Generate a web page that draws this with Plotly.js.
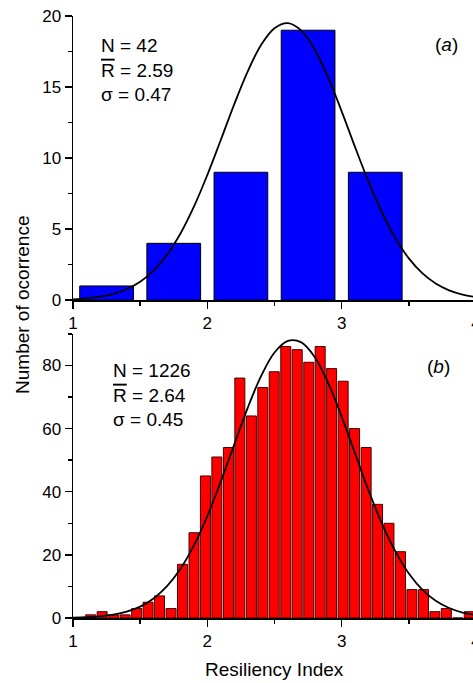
<!DOCTYPE html>
<html>
<head>
<meta charset="utf-8">
<script src="https://cdn.plot.ly/plotly-3.0.1.min.js"></script>
<style>
html,body{margin:0;padding:0;overflow:hidden;background:#fff;}
#chart{width:490px;height:683px;}
</style>
</head>
<body>
<div id="chart"></div>
<script>
// ---- Data ----
// Panel (a): N = 42
var binsA = [1.25, 1.75, 2.25, 2.75, 3.25];
var countsA = [1, 4, 9, 19, 9];

// Panel (b): N = 1226
var binsB = [1.132, 1.217, 1.303, 1.388, 1.474, 1.559, 1.644, 1.730, 1.815, 1.901,
             1.986, 2.071, 2.157, 2.242, 2.328, 2.413, 2.498, 2.584, 2.669, 2.755,
             2.840, 2.925, 3.011, 3.096, 3.182, 3.267, 3.352, 3.438, 3.523, 3.609,
             3.694, 3.779, 3.865, 3.950];
var countsB = [1, 2, 1, 1, 3, 5, 7, 3, 17, 27,
               45, 51, 54, 76, 64, 73, 78, 86, 85, 81,
               86, 79, 75, 60, 54, 36, 30, 21, 9, 9,
               2, 3, 0, 2];

// Fitted normal curves
var curveX = [1.0, 1.1, 1.2, 1.3, 1.4, 1.5, 1.6, 1.7, 1.8, 1.9,
              2.0, 2.1, 2.2, 2.3, 2.4, 2.5, 2.6, 2.7, 2.8, 2.9,
              3.0, 3.1, 3.2, 3.3, 3.4, 3.5, 3.6, 3.7, 3.8, 3.9, 4.0];
var curveA = [0.06, 0.12, 0.24, 0.44, 0.77, 1.29, 2.08, 3.20, 4.69, 6.58,
              8.81, 11.27, 13.78, 16.09, 17.96, 19.14, 19.50, 18.97, 17.63, 15.66,
              13.29, 10.77, 8.34, 6.17, 4.36, 2.94, 1.90, 1.17, 0.69, 0.39, 0.21];
var curveB = [0.12, 0.26, 0.54, 1.07, 2.01, 3.62, 6.19, 10.07, 15.60, 23.01,
              32.3, 43.2, 54.9, 66.5, 76.6, 84.1, 87.8, 87.3, 82.6, 74.4,
              63.8, 52.1, 40.4, 29.9, 21.1, 14.1, 9.0, 5.46, 3.16, 1.74, 0.91];

var statsA = ['N = 42', 'R = 2.59', 'σ = 0.47'];
var statsB = ['N = 1226', 'R = 2.64', 'σ = 0.45'];
var xTicks = [1, 2, 3, 4];

// ---- Styling ----
var FONT = 'Liberation Sans, Arial, Helvetica, sans-serif';
var LW = 1.5;

function statText(s) {
  return s[0] + '<br><span style="text-decoration:overline">R</span>' + s[1].slice(1) + '<br>' + s[2];
}

var traces = [
  {type: 'bar', x: binsA, y: countsA, width: 0.4, xaxis: 'x', yaxis: 'y',
   marker: {color: '#0000ff', line: {color: '#000000', width: 1}}, hoverinfo: 'none'},
  {type: 'scatter', mode: 'lines', x: curveX, y: curveA, xaxis: 'x', yaxis: 'y',
   line: {color: '#000', width: 1.8, shape: 'spline', smoothing: 1}, hoverinfo: 'none'},
  {type: 'bar', x: binsB, y: countsB, width: 0.0745, xaxis: 'x2', yaxis: 'y2',
   marker: {color: '#ff0000', line: {color: '#4a0000', width: 1}}, hoverinfo: 'none'},
  {type: 'scatter', mode: 'lines', x: curveX, y: curveB, xaxis: 'x2', yaxis: 'y2',
   line: {color: '#000', width: 1.8, shape: 'spline', smoothing: 1}, hoverinfo: 'none'}
];

function xAx(anchor, extra) {
  var a = {
    anchor: anchor, range: [1, 4], autorange: false,
    tickvals: xTicks, ticktext: xTicks.map(String),
    ticks: 'outside', ticklen: 7, tickwidth: LW, tickcolor: '#000',
    minor: {ticks: 'outside', ticklen: 4, tickwidth: LW, tickcolor: '#000', dtick: 0.5, tick0: 1, showgrid: false},
    showline: true, linecolor: '#000', linewidth: LW,
    showgrid: false, zeroline: false,
    tickfont: {family: FONT, size: 17, color: '#000'}
  };
  for (var k in extra) a[k] = extra[k];
  return a;
}
function yAx(anchor, domain, range, dtick, mdtick, extra) {
  var a = {
    anchor: anchor, domain: domain, range: range, autorange: false,
    dtick: dtick, tick0: 0,
    ticks: 'outside', ticklen: 7, tickwidth: LW, tickcolor: '#000',
    minor: {ticks: 'outside', ticklen: 4, tickwidth: LW, tickcolor: '#000', dtick: mdtick, tick0: 0, showgrid: false},
    showline: true, linecolor: '#000', linewidth: LW,
    showgrid: false, zeroline: false,
    tickfont: {family: FONT, size: 17, color: '#000'}
  };
  for (var k in extra) a[k] = extra[k];
  return a;
}
function mirrorX(over, anchor) {
  return {
    overlaying: over, anchor: anchor, side: 'top', range: [1, 4], autorange: false,
    tickvals: xTicks, showticklabels: false,
    ticks: 'inside', ticklen: 7, tickwidth: LW, tickcolor: '#000',
    minor: {ticks: 'inside', ticklen: 4, tickwidth: LW, tickcolor: '#000', dtick: 0.5, tick0: 1, showgrid: false},
    showline: true, linecolor: '#000', linewidth: LW, showgrid: false, zeroline: false
  };
}
function mirrorY(over, anchor, range, dtick, mdtick) {
  return {
    overlaying: over, anchor: anchor, side: 'right', range: range, autorange: false,
    dtick: dtick, tick0: 0, showticklabels: false,
    ticks: 'inside', ticklen: 7, tickwidth: LW, tickcolor: '#000',
    minor: {ticks: 'inside', ticklen: 4, tickwidth: LW, tickcolor: '#000', dtick: mdtick, tick0: 0, showgrid: false},
    showline: true, linecolor: '#000', linewidth: LW, showgrid: false, zeroline: false
  };
}

var annFont = {family: FONT, size: 19, color: '#000'};

var layout = {
  width: 490, height: 683,
  margin: {l: 73, r: 14, t: 16, b: 65, pad: 0},
  paper_bgcolor: '#fff', plot_bgcolor: '#fff',
  showlegend: false,
  font: {family: FONT, color: '#000'},
  xaxis: xAx('y', {}),
  yaxis: yAx('x', [0.528, 1], [0, 20], 5, 2.5, {}),
  xaxis2: xAx('y2', {}),
  yaxis2: yAx('x2', [0, 0.472], [0, 90], 20, 10, {}),
  xaxis3: mirrorX('x', 'y'),
  yaxis3: mirrorY('y', 'x', [0, 20], 5, 2.5),
  xaxis4: mirrorX('x2', 'y2'),
  yaxis4: mirrorY('y2', 'x2', [0, 90], 20, 10),
  annotations: [
    {xref: 'x', yref: 'y', x: 1.19, y: 18.8, xanchor: 'left', yanchor: 'top', align: 'left',
     showarrow: false, text: statText(statsA), font: annFont},
    {xref: 'x2', yref: 'y2', x: 1.28, y: 82.5, xanchor: 'left', yanchor: 'top', align: 'left',
     showarrow: false, text: statText(statsB), font: annFont},
    {xref: 'x', yref: 'y', x: 3.78, y: 18.0, xanchor: 'center', yanchor: 'middle',
     showarrow: false, text: '(<i>a</i>)', font: annFont},
    {xref: 'x2', yref: 'y2', x: 3.72, y: 79.6, xanchor: 'center', yanchor: 'middle',
     showarrow: false, text: '(<i>b</i>)', font: annFont},
    {xref: 'paper', yref: 'paper', x: -0.124, y: 0.52, xanchor: 'center', yanchor: 'middle',
     textangle: -90, showarrow: false, text: 'Number of ocorrence', font: annFont},
    {xref: 'paper', yref: 'paper', x: 0.5, y: -0.085, xanchor: 'center', yanchor: 'middle',
     showarrow: false, text: 'Resiliency Index', font: annFont}
  ]
};

Plotly.newPlot('chart', traces, layout, {displayModeBar: false, staticPlot: true});
</script>
</body>
</html>
